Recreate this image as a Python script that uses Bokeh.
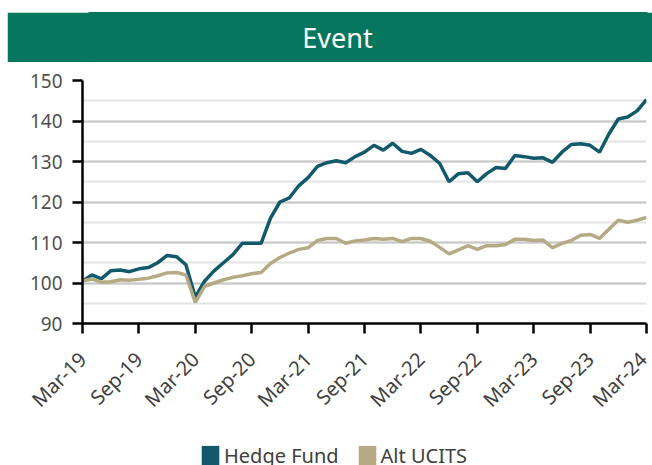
import math
from bokeh.plotting import figure
from bokeh.layouts import column
from bokeh.models import (Label, Legend, LegendItem, FixedTicker, ColumnDataSource,
                          SingleIntervalTicker)
from bokeh.embed import file_html
from bokeh.resources import INLINE

# ---- data ----
tick_labels = ["Mar-19", "Sep-19", "Mar-20", "Sep-20", "Mar-21", "Sep-21",
               "Mar-22", "Sep-22", "Mar-23", "Sep-23", "Mar-24"]
hedge_fund = [100.5, 102.0, 101.0, 103.0, 103.2, 102.8, 103.5, 103.8, 105.0, 106.8,
              106.5, 104.5, 96.5, 100.5, 103.0, 105.0, 107.0, 109.8, 109.8, 109.8,
              116.0, 120.0, 121.0, 124.0, 126.0, 128.8, 129.7, 130.2, 129.7, 131.2,
              132.3, 134.0, 132.8, 134.5, 132.5, 132.0, 133.0, 131.5, 129.5, 125.0,
              127.0, 127.2, 125.0, 127.0, 128.5, 128.3, 131.5, 131.2, 130.8, 130.9,
              129.8, 132.3, 134.2, 134.4, 134.0, 132.3, 136.8, 140.5, 141.0, 142.5,
              145.3]
alt_ucits = [100.5, 101.0, 100.2, 100.3, 100.8, 100.7, 100.9, 101.2, 101.8, 102.5,
             102.6, 102.0, 95.2, 99.2, 100.0, 100.8, 101.4, 101.8, 102.3, 102.6,
             104.8, 106.3, 107.4, 108.3, 108.7, 110.5, 111.0, 111.0, 109.8, 110.4,
             110.6, 111.0, 110.8, 111.0, 110.2, 111.0, 111.0, 110.3, 108.8, 107.2,
             108.2, 109.2, 108.3, 109.2, 109.2, 109.5, 110.8, 110.8, 110.5, 110.6,
             108.7, 109.8, 110.5, 111.8, 112.0, 111.0, 113.3, 115.5, 115.0, 115.5,
             116.2]
months = list(range(len(hedge_fund)))

HF_COLOR = "#12596c"
UC_COLOR = "#b6aa84"
GREEN = "#07765e"
FONT = "Noto Sans"
TXT = "#404040"
NAN = float("nan")

# ---- header ----
header = figure(width=645, height=50, x_range=(0, 1), y_range=(0, 1),
                toolbar_location=None, output_backend="svg",
                min_border_left=75, min_border_right=6, min_border_top=0,
                min_border_bottom=0, margin=(12, 0, 0, 7))
header.axis.visible = False
header.grid.visible = False
header.outline_line_color = GREEN
header.outline_line_width = 2
header.background_fill_color = GREEN
header.border_fill_color = GREEN
header.add_layout(Label(x=(337 - 89) / 557, y=0.5,
                        text="Event", text_color="white", text_font=FONT,
                        text_font_size="27px", text_align="center",
                        text_baseline="middle"))

# ---- main chart ----
p = figure(width=652, height=365, x_range=(0, 60), y_range=(90, 150),
           toolbar_location=None, output_backend="svg",
           min_border_left=82, min_border_right=6, min_border_top=18,
           min_border_bottom=104)
p.outline_line_color = None
p.background_fill_color = "white"
p.border_fill_color = "white"

src = ColumnDataSource(dict(x=months, hf=hedge_fund, uc=alt_ucits))
p.line("x", "hf", source=src, line_color=HF_COLOR, line_width=3.5)
p.line("x", "uc", source=src, line_color=UC_COLOR, line_width=3.5)

# axes
p.xaxis.ticker = FixedTicker(ticks=list(range(0, 61, 6)))
p.xaxis.major_label_overrides = {i * 6: lab for i, lab in enumerate(tick_labels)}
p.xaxis.major_label_orientation = math.pi / 4
p.xaxis.minor_tick_line_color = None
p.xaxis.major_tick_in = 0
p.xaxis.major_tick_out = 10
p.xaxis.axis_line_width = 2.5
p.xaxis.major_tick_line_width = 2.5
p.xaxis.axis_line_color = "black"
p.xaxis.major_tick_line_color = "black"
p.xaxis.major_label_text_font = FONT
p.xaxis.major_label_text_font_size = "20px"
p.xaxis.major_label_text_color = TXT
p.xaxis.major_label_standoff = 22

p.yaxis.ticker = SingleIntervalTicker(interval=10, num_minor_ticks=2)
p.yaxis.minor_tick_line_color = None
p.yaxis.major_tick_in = 0
p.yaxis.major_tick_out = 10
p.yaxis.axis_line_width = 2.5
p.yaxis.major_tick_line_width = 2.5
p.yaxis.axis_line_color = "black"
p.yaxis.major_tick_line_color = "black"
p.yaxis.major_label_text_font = FONT
p.yaxis.major_label_text_font_size = "19px"
p.yaxis.major_label_text_color = "#505050"
p.yaxis.major_label_standoff = 10

p.xgrid.visible = False
p.ygrid.grid_line_color = "#c8c8c8"
p.ygrid.grid_line_width = 2
p.ygrid.minor_grid_line_color = "#e4e4e4"
p.ygrid.minor_grid_line_width = 2

# ---- legend strip ----
lg = figure(width=652, height=38, x_range=(0, 1), y_range=(0, 1),
            toolbar_location=None, output_backend="svg",
            min_border_left=82, min_border_right=6, min_border_top=0,
            min_border_bottom=0)
lg.axis.visible = False
lg.grid.visible = False
lg.outline_line_color = None
# legend swatch proxies (NaN geometry: nothing drawn in the plot itself)
q_hf = lg.quad(top=[NAN], bottom=[NAN], left=[NAN], right=[NAN],
               fill_color=HF_COLOR, line_color=None)
q_uc = lg.quad(top=[NAN], bottom=[NAN], left=[NAN], right=[NAN],
               fill_color=UC_COLOR, line_color=None)
legend = Legend(items=[LegendItem(label="Hedge Fund", renderers=[q_hf]),
                       LegendItem(label="Alt UCITS", renderers=[q_uc])],
                orientation="horizontal", location=(117, -3.5),
                glyph_width=22, glyph_height=24, padding=0, spacing=17,
                label_standoff=3, border_line_color=None,
                background_fill_alpha=0,
                label_text_font=FONT, label_text_font_size="20px",
                label_text_color=TXT, margin=0)
lg.add_layout(legend, "center")

layout = column(header, p, lg, spacing=0)
open("out.html", "w").write(file_html(layout, INLINE))
